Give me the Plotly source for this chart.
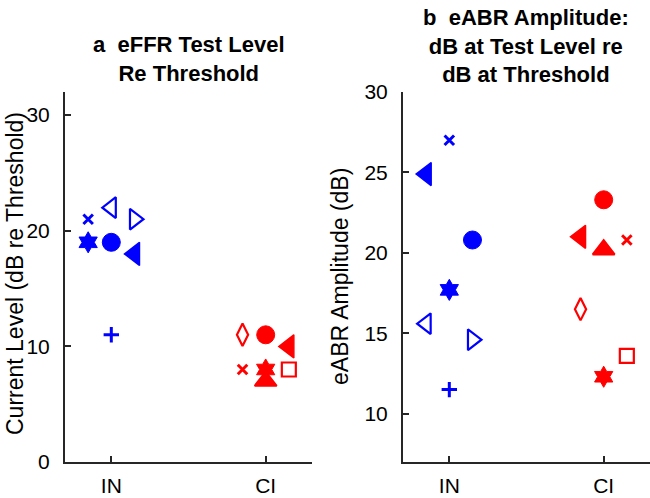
import plotly.graph_objects as go

# ---------------- data ----------------
GROUPS = ["IN", "CI"]
GROUP_POS = [1, 2]

# IN subjects (blue)
IN_SYMBOLS = ["x-thin", "triangle-left", "circle", "hexagram",
              "triangle-left-open", "triangle-right-open", "cross-thin"]
IN_EFFR = [21, 18, 19, 19, 22, 21, 11]
IN_EFFR_X = [0.85, 1.15, 1.0, 0.85, 1.0, 1.15, 1.0]
IN_EABR = [27.0, 24.9, 20.8, 17.7, 15.6, 14.6, 11.5]
IN_EABR_X = [1.0, 0.85, 1.15, 1.0, 0.85, 1.15, 1.0]

# CI subjects (red)
CI_SYMBOLS = ["circle", "triangle-left", "triangle-up", "x-thin",
              "diamond-tall-open", "square-open", "hexagram"]
CI_EFFR = [11, 10, 7, 8, 11, 8, 8]
CI_EFFR_X = [2.0, 2.15, 2.0, 1.85, 1.85, 2.15, 2.0]
CI_EABR = [23.3, 21.0, 20.2, 20.8, 16.5, 13.6, 12.3]
CI_EABR_X = [2.0, 1.85, 2.0, 2.15, 1.85, 2.15, 2.0]

LEFT_YTICKS = [0, 10, 20, 30]
RIGHT_YTICKS = [10, 15, 20, 25, 30]

# ---------------- style ----------------
FONT = "Liberation Sans, Arial, Helvetica, sans-serif"
AX = "#262626"
SYM_STYLE = {  # symbol: (size, line width)
    "circle": (18, 1),
    "triangle-left": (20, 1.5),
    "triangle-up": (19, 2),
    "hexagram": (16, 1),
    "x-thin": (9.5, 3),
    "cross-thin": (11, 3),
    "triangle-left-open": (18, 2.2),
    "triangle-right-open": (18, 2.2),
    "square-open": (14, 2.2),
    "diamond-tall-open": (16, 2.2),
}


def add_group(fig, xs, ys, syms, color, xa, ya):
    fig.add_trace(go.Scatter(
        x=xs, y=ys, mode="markers", xaxis=xa, yaxis=ya,
        showlegend=False, cliponaxis=False,
        marker=dict(symbol=syms, color=color, opacity=1,
                    size=[SYM_STYLE[s][0] for s in syms],
                    line=dict(color=color, width=[SYM_STYLE[s][1] for s in syms])),
    ))


fig = go.Figure()
add_group(fig, IN_EFFR_X, IN_EFFR, IN_SYMBOLS, "#0000ff", "x", "y")
add_group(fig, CI_EFFR_X, CI_EFFR, CI_SYMBOLS, "#ff0000", "x", "y")
add_group(fig, IN_EABR_X, IN_EABR, IN_SYMBOLS, "#0000ff", "x2", "y2")
add_group(fig, CI_EABR_X, CI_EABR, CI_SYMBOLS, "#ff0000", "x2", "y2")

ydom = [1 - 462 / 498, 1 - 92 / 498]
TICKFONT = dict(family=FONT, size=21, color="#000")
common_x = dict(range=[0.7, 2.3], tickvals=GROUP_POS, ticktext=GROUPS,
                showline=True, linecolor=AX, linewidth=2, ticks="inside",
                ticklen=6, tickwidth=1.5, tickcolor=AX, showgrid=False,
                zeroline=False, tickfont=TICKFONT, ticklabelstandoff=4,
                automargin=False)
common_y = dict(showline=True, linecolor=AX, linewidth=2, ticks="inside",
                ticklen=6, tickwidth=1.5, tickcolor=AX, showgrid=False,
                zeroline=False, tickfont=TICKFONT, ticklabelstandoff=9,
                domain=ydom, automargin=False)

fig.update_layout(
    width=650, height=498,
    margin=dict(l=0, r=0, t=0, b=0, autoexpand=False),
    paper_bgcolor="white", plot_bgcolor="white",
    xaxis=dict(domain=[65 / 650, 312 / 650], anchor="y", **common_x),
    yaxis=dict(range=[0, 32], tickvals=LEFT_YTICKS, anchor="x", **common_y),
    xaxis2=dict(domain=[403 / 650, 1.0], anchor="y2", **common_x),
    yaxis2=dict(range=[7, 30], tickvals=RIGHT_YTICKS, anchor="x2", **common_y),
    annotations=[
        dict(text="<b>a  eFFR Test Level<br>Re Threshold</b>", xref="paper", yref="paper",
             x=188.5 / 650, y=1 - 59 / 498, xanchor="center", yanchor="middle",
             showarrow=False, font=dict(family=FONT, size=22, color="#000")),
        dict(text="<b>b  eABR Amplitude:<br>dB at Test Level re<br>dB at Threshold</b>",
             xref="paper", yref="paper",
             x=526 / 650, y=1 - 46 / 498, xanchor="center", yanchor="middle",
             showarrow=False, font=dict(family=FONT, size=22, color="#000")),
        dict(text="Current Level (dB re Threshold)", xref="paper", yref="paper",
             x=15 / 650, y=1 - 274 / 498, xanchor="center", yanchor="middle",
             textangle=-90, showarrow=False, font=dict(family=FONT, size=23, color="#000")),
        dict(text="eABR Amplitude (dB)", xref="paper", yref="paper",
             x=340 / 650, y=1 - 277 / 498, xanchor="center", yanchor="middle",
             textangle=-90, showarrow=False, font=dict(family=FONT, size=23, color="#000")),
    ],
)

fig.write_html("out.html")
